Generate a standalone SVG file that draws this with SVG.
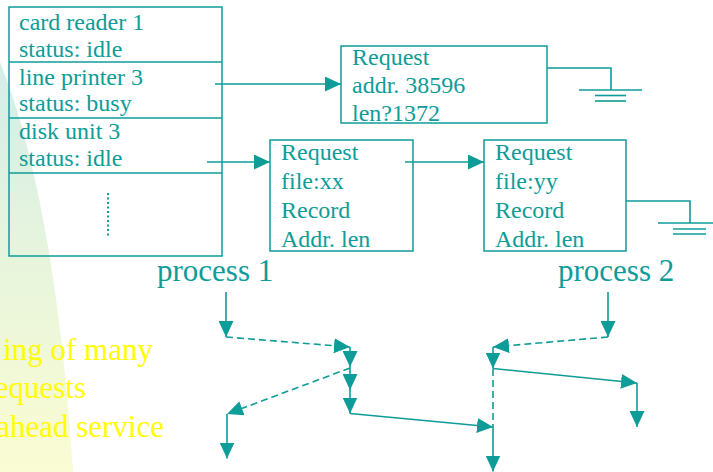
<svg xmlns="http://www.w3.org/2000/svg" width="713" height="472" viewBox="0 0 713 472">
  <style>
    .box { fill: none; stroke: #0e9c98; stroke-width: 1.5; }
    .ln { fill: none; stroke: #0e9c98; stroke-width: 1.6; }
    .dash { stroke-dasharray: 7 4; }
    .t { font-family: "Liberation Serif", "Times New Roman", serif; font-size: 24px; fill: #0e9c98; }
    .big { font-family: "Liberation Serif", "Times New Roman", serif; font-size: 31px; fill: #0e9c98; }
    .note { font-family: "Liberation Serif", "Times New Roman", serif; font-size: 31px; fill: #ffff00; }
  </style>
  <defs>
    <linearGradient id="bgFade" x1="0" y1="0" x2="0" y2="1">
      <stop offset="0" stop-color="#d3ede8"/>
      <stop offset="0.5" stop-color="#e8f5dc"/>
      <stop offset="1" stop-color="#fafcd2"/>
    </linearGradient>
    <marker id="arr" viewBox="0 0 16 15" markerWidth="16" markerHeight="15" refX="16" refY="7.5" orient="auto" markerUnits="userSpaceOnUse">
      <path d="M0,0 L16,7.5 L0,15 Z" fill="#0e9c98"/>
    </marker>
  </defs>

  <!-- backdrop sweep -->
  <path d="M0,62 Q55,200 73,472 L0,472 Z" fill="url(#bgFade)"/>

  <!-- side caption -->
  <g id="caption">
    <text class="note" x="153" y="360" text-anchor="end">ing of many</text>
    <text class="note" x="86" y="398" text-anchor="end">equests</text>
    <text class="note" x="164" y="437" text-anchor="end">ahead service</text>
  </g>

  <!-- device status table -->
  <g id="device-table">
    <rect class="box" x="9" y="7" width="213" height="249"/>
    <line class="box" x1="9" y1="62" x2="222" y2="62"/>
    <line class="box" x1="9" y1="118" x2="222" y2="118"/>
    <line class="box" x1="9" y1="173" x2="222" y2="173"/>
    <text class="t" x="19" y="30">card reader 1</text>
    <text class="t" x="19" y="57">status: idle</text>
    <text class="t" x="19" y="85">line printer 3</text>
    <text class="t" x="19" y="111">status: busy</text>
    <text class="t" x="19" y="139">disk unit 3</text>
    <text class="t" x="19" y="166">status: idle</text>
    <line x1="108" y1="193" x2="108" y2="238" stroke="#0e9c98" stroke-width="2" stroke-dasharray="2 2.5"/>
  </g>

  <!-- printer request -->
  <g id="req-printer">
    <rect class="box" x="341" y="46" width="206" height="77"/>
    <text class="t" x="352" y="65">Request</text>
    <text class="t" x="352" y="93">addr. 38596</text>
    <text class="t" x="352" y="121">len?1372</text>
  </g>

  <!-- disk requests -->
  <g id="req-xx">
    <rect class="box" x="270" y="140" width="143" height="111"/>
    <text class="t" x="281" y="160">Request</text>
    <text class="t" x="281" y="189">file:xx</text>
    <text class="t" x="281" y="218">Record</text>
    <text class="t" x="281" y="247">Addr. len</text>
  </g>
  <g id="req-yy">
    <rect class="box" x="484" y="140" width="142" height="111"/>
    <text class="t" x="495" y="160">Request</text>
    <text class="t" x="495" y="189">file:yy</text>
    <text class="t" x="495" y="218">Record</text>
    <text class="t" x="495" y="247">Addr. len</text>
  </g>

  <g id="labels">
    <text class="big" x="157" y="281">process 1</text>
    <text class="big" x="558" y="281">process 2</text>
  </g>

  <!-- list links and end-of-list grounds -->
  <g id="connectors">
    <line class="ln" x1="215" y1="84" x2="341" y2="84" marker-end="url(#arr)"/>
    <line class="ln" x1="207" y1="162" x2="270" y2="162" marker-end="url(#arr)"/>
    <line class="ln" x1="405" y1="162" x2="484" y2="162" marker-end="url(#arr)"/>

    <polyline class="ln" points="547,68 611,68 611,90"/>
    <line class="ln" x1="579" y1="90" x2="642" y2="90"/>
    <line class="ln" x1="595" y1="95.5" x2="626" y2="95.5"/>
    <line class="ln" x1="595" y1="101" x2="626" y2="101"/>

    <polyline class="ln" points="626,201 690,201 690,223"/>
    <line class="ln" x1="658" y1="223" x2="713" y2="223"/>
    <line class="ln" x1="673" y1="229" x2="706" y2="229"/>
    <line class="ln" x1="673" y1="234" x2="706" y2="234"/>

    <!-- process 1 request flow -->
    <line class="ln" x1="226" y1="292" x2="226" y2="337" marker-end="url(#arr)"/>
    <line class="ln dash" x1="226" y1="337" x2="350" y2="347" marker-end="url(#arr)"/>
    <line class="ln" x1="350" y1="347" x2="350" y2="367" marker-end="url(#arr)"/>
    <line class="ln" x1="350" y1="367" x2="350" y2="390" marker-end="url(#arr)"/>
    <line class="ln" x1="350" y1="390" x2="350" y2="413.5" marker-end="url(#arr)"/>
    <line class="ln dash" x1="350" y1="368" x2="227" y2="414" marker-end="url(#arr)"/>
    <line class="ln" x1="227" y1="414" x2="227" y2="458.5" marker-end="url(#arr)"/>
    <line class="ln" x1="350" y1="413.5" x2="493" y2="427" marker-end="url(#arr)"/>

    <!-- process 2 request flow -->
    <line class="ln" x1="608" y1="292" x2="608" y2="337" marker-end="url(#arr)"/>
    <line class="ln dash" x1="608" y1="337" x2="493" y2="347" marker-end="url(#arr)"/>
    <line class="ln" x1="493" y1="347" x2="493" y2="368.5" marker-end="url(#arr)"/>
    <line class="ln" x1="493" y1="368.5" x2="637" y2="383" marker-end="url(#arr)"/>
    <line class="ln" x1="637" y1="383" x2="637" y2="427" marker-end="url(#arr)"/>
    <line class="ln dash" x1="493" y1="369" x2="493" y2="424"/>
    <line class="ln" x1="493" y1="424" x2="493" y2="471.5" marker-end="url(#arr)"/>
  </g>
</svg>
